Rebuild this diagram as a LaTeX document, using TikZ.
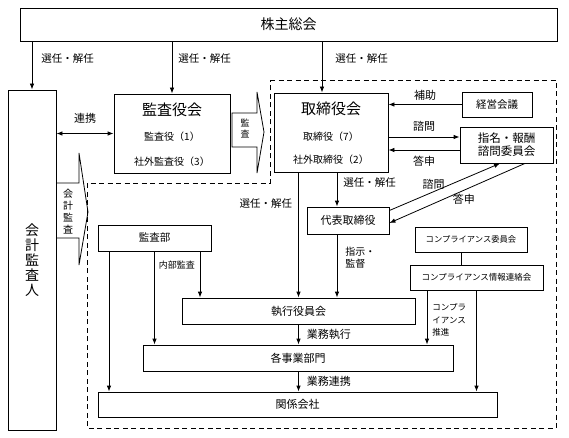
\documentclass[tikz,border=0pt]{standalone}
\usepackage{fontspec}
\setmainfont{Noto Sans CJK JP}
\usetikzlibrary{arrows.meta}
\newcommand{\fsz}[1]{\fontsize{#1}{#1}\selectfont}
\tikzset{
  box/.style={draw, line width=0.8pt, inner sep=0pt},
  arr/.style={line width=0.8pt, -{Latex[length=6pt,width=4.5pt]}},
  lbl/.style={font=\fsz{10.5}, inner sep=1pt},
}
\begin{document}
\begin{tikzpicture}[x=1pt,y=-1pt]
\useasboundingbox (0,0) rectangle (569,438);

% dashed frame
\draw[line width=0.9pt, dash pattern=on 5pt off 3.5pt]
  (270,80) -| (556,428) -| (87,183) -| cycle;

% boxes
\node[box, minimum width=537, minimum height=33, font=\fsz{14}] (kabunushi) at (288.5,24.5) {株主総会};
\node[box, minimum width=48, minimum height=340, align=center, font=\fontsize{14}{15}\selectfont] (kaikei) at (32,260) {会\\計\\監\\査\\人};

\node[box, minimum width=116, minimum height=79] (kansa) at (172,133.5) {};
\node[font=\fsz{15}] (kansaT) at ([yshift=-16pt]kansa.north) {監査役会};
\node[font=\fsz{10}] (kansaA) at ([yshift=-43pt]kansa.north) {監査役（1）};
\node[font=\fsz{10}] (kansaB) at ([yshift=-68pt]kansa.north) {社外監査役（3）};

\node[box, minimum width=114, minimum height=79] (tori) at (331,132.5) {};
\node[font=\fsz{15}] (toriT) at ([yshift=-16pt]tori.north) {取締役会};
\node[font=\fsz{10}] (toriA) at ([yshift=-44pt]tori.north) {取締役（7）};
\node[font=\fsz{10}] (toriB) at ([yshift=-67pt]tori.north) {社外取締役（2）};

\node[box, minimum width=70, minimum height=25, font=\fsz{10.5}] (keiei) at (497,104.5) {経営会議};
\node[box, minimum width=93, minimum height=36, align=center, font=\fontsize{11.5}{13}\selectfont] (shimei) at (506.5,145) {指名・報酬\\諮問委員会};
\node[box, minimum width=82, minimum height=27, font=\fsz{11}] (daihyo) at (348,220.5) {代表取締役};
\node[box, minimum width=113, minimum height=26, font=\fsz{10.5}] (kansabu) at (154.5,238) {監査部};
\node[box, minimum width=233, minimum height=26, font=\fsz{11}] (shikko) at (298.5,311) {執行役員会};
\node[box, minimum width=310, minimum height=26, font=\fsz{11}] (jigyo) at (298,358) {各事業部門};
\node[box, minimum width=399, minimum height=25, font=\fsz{11}] (kankei) at (297.5,404.5) {関係会社};
\node[box, minimum width=112, minimum height=25, font=\fsz{8.3}] (comp1) at (471,239.5) {コンプライアンス委員会};
\node[box, minimum width=133, minimum height=25, font=\fsz{8.5}] (comp2) at (476.5,277.5) {コンプライアンス情報連絡会};

% block arrows
\draw[line width=0.8pt] (56,183) -- (79,183) -- (79,153) -- (88,212)
  -- (79,265) -- (79,238) -- (56,238);
\node[align=center, font=\fontsize{10}{12}\selectfont, inner sep=0pt] (kaikeiTxt) at (68,212) {会\\計\\監\\査};
\draw[line width=0.8pt] (232,113) -- (257,113) -- (257,92) -- (264,132)
  -- (257,173) -- (257,147) -- (232,147) -- cycle;
\node[align=center, font=\fontsize{9}{11}\selectfont, inner sep=0pt] (kansaTxt) at (245,129) {監\\査};

% helper points
\coordinate (xT) at ([xshift=-9pt]tori.north);
\coordinate (xD) at ([xshift=-11pt]daihyo.north);
\coordinate (sQ) at ([yshift=8pt]shimei.west);
\coordinate (sA) at ([yshift=-5pt]shimei.west);
\coordinate (dQ) at ([yshift=10pt]daihyo.east);
\coordinate (dA) at ([yshift=-2.5pt]daihyo.east);
\coordinate (sB1) at ([xshift=-6.5pt]shimei.south);
\coordinate (sB2) at ([xshift=18.5pt]shimei.south);
\coordinate (kbL) at ([xshift=-45.5pt]kansabu.south);
\coordinate (kbR) at ([xshift=45.5pt]kansabu.south);
\coordinate (cL) at ([xshift=-10pt]comp1.south);
\coordinate (c2L) at ([xshift=-49.5pt]comp2.south);

% from the general meeting
\draw[arr] (kaikei.north |- kabunushi.south) -- node[pos=.35,right=8pt,lbl] {選任・解任} (kaikei.north);
\draw[arr] (kansa.north |- kabunushi.south) -- node[pos=.32,right=5pt,lbl] {選任・解任} (kansa.north);
\draw[arr] (xT |- kabunushi.south) -- node[pos=.33,right=12pt,lbl] {選任・解任} (xT);

\draw[line width=0.8pt, {Latex[length=6pt,width=4.5pt]}-{Latex[length=6pt,width=4.5pt]}]
  (kaikei.east |- kansa.west) -- node[midway,above=9pt,lbl,font=\fsz{11}] {連携} (kansa.west);

% board and committees
\draw[arr] (keiei.west) -- node[midway,above=3pt,lbl,font=\fsz{11}] {補助} (keiei.west -| tori.east);
\draw[arr] (sQ -| tori.east) -- node[midway,above=4pt,lbl,font=\fsz{11}] {諮問} (sQ);
\draw[arr] (sA) -- node[midway,below=5pt,lbl,font=\fsz{11}] {答申} (sA -| tori.east);
\draw[arr] (xD |- tori.south) -- node[pos=.31,right=5pt,lbl] {選任・解任} (xD);
\draw[arr] (dQ) -- node[pos=.4,above=1pt,lbl,font=\fsz{11}] {諮問} (sB1);
\draw[arr] (sB2) -- node[pos=.45,below=2pt,lbl,font=\fsz{11}] {答申} (dA);

% execution
\draw[arr] (shikko.north |- tori.south) -- node[pos=.25,left=5pt,lbl] {選任・解任} (shikko.north);
\draw[arr] (xD |- daihyo.south) -- node[pos=.37,right=7pt,lbl,align=left,font=\fontsize{10}{12}\selectfont] {指示・\\監督} (xD |- shikko.north);
\draw[arr] (shikko.south) -- node[midway,right=7pt,lbl,font=\fsz{11}] {業務執行} (shikko.south |- jigyo.north);
\draw[arr] (shikko.south |- jigyo.south) -- node[midway,right=7pt,lbl,font=\fsz{11}] {業務連携} (shikko.south |- kankei.north);

% internal audit
\draw[arr] (kbL) -- (kbL |- kankei.north);
\draw[arr] (kansabu.south) -- node[pos=.15,right=3pt,lbl,font=\fsz{9}] {内部監査} (kansabu.south |- jigyo.north);
\draw[arr] (kbR) -- (kbR |- shikko.north);

% compliance
\draw[line width=0.8pt] (cL) -- (cL |- comp2.north);
\draw[arr] (c2L) -- node[pos=.55,right=4pt,lbl,align=left,font=\fontsize{8.5}{12.5}\selectfont] {コンプラ\\イアンス\\推進} (c2L |- jigyo.north);
\draw[arr] (comp2.south) -- (comp2.south |- kankei.north);
\end{tikzpicture}
\end{document}
